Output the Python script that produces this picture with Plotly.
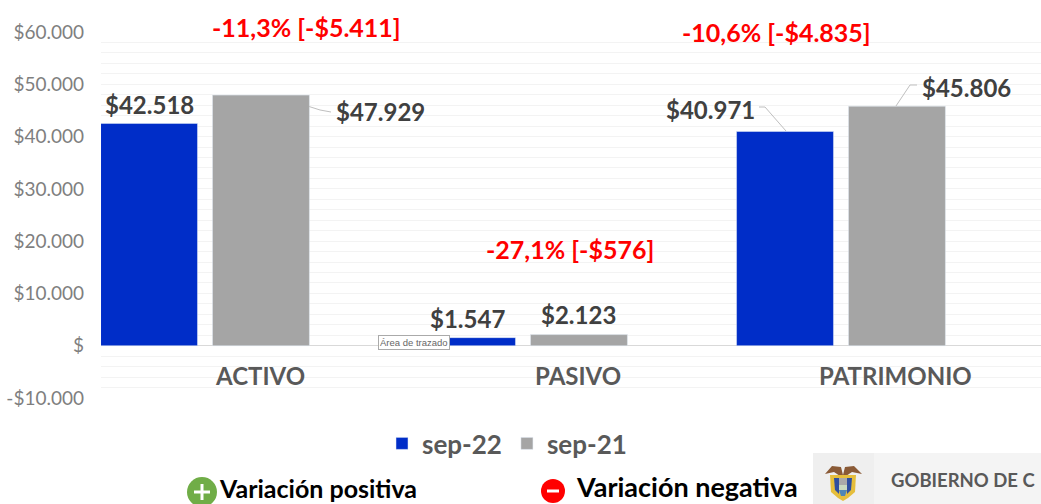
import plotly.graph_objects as go

categories = ["ACTIVO", "PASIVO", "PATRIMONIO"]
sep_22 = [42518, 1547, 40971]
sep_21 = [47929, 2123, 45806]
variation = ["-11,3% [-$5.411]", "-27,1% [-$576]", "-10,6% [-$4.835]"]
y_ticks = [60000, 50000, 40000, 30000, 20000, 10000, 0, -10000]
y_tick_labels = ["$60.000", "$50.000", "$40.000", "$30.000", "$20.000", "$10.000", "$", "-$10.000"]

W, H = 1041, 504
L, R, T, B = 101, 1041, 32, 398
FONT = "Lato"
BLUE, GRAY = "#002DC8", "#A5A5A5"

def px(x):
    return (x - L) / (R - L)

def py(y):
    return (B - y) / (B - T)

def money(v):
    return "$" + f"{v:,}".replace(",", ".")

def path(points, close=False):
    s = "M " + " L ".join(f"{px(a):.5f},{py(b):.5f}" for a, b in points)
    return s + (" Z" if close else "")

fig = go.Figure()
fig.add_bar(x=categories, y=sep_22, name="<b>sep-22</b>", marker_color=BLUE)
fig.add_bar(x=categories, y=sep_21, name="<b>sep-21</b>", marker_color=GRAY)

ann = []
off = 0.176
shift_22 = [(0, 19), (0, 19), (-75, 22)]
shift_21 = [(120, -16), (0, 20), (70, 19)]
for i in range(3):
    for vals, sgn, sh in ((sep_22, -1, shift_22[i]), (sep_21, 1, shift_21[i])):
        ann.append(dict(x=i + sgn * off, y=vals[i], xref="x", yref="y", text=money(vals[i]),
                        showarrow=False, xshift=sh[0], yshift=sh[1], xanchor="center", yanchor="middle",
                        font=dict(family=FONT, size=24, color="#404040", weight=700)))
for i, c in enumerate(categories):
    ann.append(dict(x=i + 0.173, y=0, xref="x", yref="y", yshift=-30, text=c, showarrow=False,
                    xanchor="center", yanchor="middle",
                    font=dict(family=FONT, size=24, color="#595959", weight=700)))
for t, (a, b) in zip(variation, [(306, 27), (570, 249), (776, 32)]):
    ann.append(dict(x=px(a), y=py(b), xref="paper", yref="paper", text=t, showarrow=False,
                    xanchor="center", yanchor="middle",
                    font=dict(family=FONT, size=25, color="#FF0000", weight=700)))

def free_text(a, b, t, size, color, weight=700):
    ann.append(dict(x=px(a), y=py(b), xref="paper", yref="paper", text=t, showarrow=False,
                    xanchor="left", yanchor="middle",
                    font=dict(family=FONT, size=size, color=color, weight=weight)))

free_text(217, 488, "Variación positiva", 25, "#000000")
free_text(574, 486.5, "Variación negativa", 27, "#000000")
free_text(889, 480, "GOBIERNO DE C", 18.5, "#595959")
ann.append(dict(x=px(414), y=py(342), xref="paper", yref="paper", text="Área de trazado", showarrow=False,
                xanchor="center", yanchor="middle",
                font=dict(family="Liberation Sans", size=9.5, color="#666666"), bgcolor="#FFFFFF",
                bordercolor="#AAAAAA", borderwidth=1, borderpad=1))

shapes = []
def rect(x0, y0, x1, y1, fill):
    shapes.append(dict(type="rect", xref="paper", yref="paper", x0=px(x0), x1=px(x1), y0=py(y0), y1=py(y1),
                       fillcolor=fill, line_width=0, layer="above"))
def circle(cx, cy, r, fill):
    shapes.append(dict(type="circle", xref="paper", yref="paper", x0=px(cx - r), x1=px(cx + r),
                       y0=py(cy - r), y1=py(cy + r), fillcolor=fill, line_width=0, layer="above"))
def poly(points, fill):
    shapes.append(dict(type="path", xref="paper", yref="paper", path=path(points, True),
                       fillcolor=fill, line_width=0, layer="above"))

for pts in ([(309, 106.5), (320, 110), (331, 112)],
            [(759, 107), (765, 107), (786, 131)],
            [(896, 106), (910, 85), (917, 85)]):
    shapes.append(dict(type="path", xref="paper", yref="paper", path=path(pts),
                       line=dict(color="#BFBFBF", width=1), layer="above"))

circle(202, 492, 15, "#70AD47")
rect(194, 490.5, 210, 493.5, "#FFFFFF")
rect(200.5, 484, 203.5, 500, "#FFFFFF")
circle(553, 491, 12, "#FF0000")
rect(547, 489.5, 559, 492.5, "#FFFFFF")

rect(874, 453, 1041, 504, "#F4F4F4")
rect(813, 453, 874, 504, "#EFEFEF")
poly([(825, 474), (832, 466), (841, 467), (843, 475), (845, 467), (854, 466), (862, 474), (852, 472), (843, 478), (834, 472)], "#8A5A36")
poly([(830, 475), (856, 475), (855, 492), (848, 498), (843, 501), (838, 498), (831, 492)], "#E5BE3C")
poly([(834, 478), (839, 478), (839, 494), (835, 490)], "#2E4FA0")
poly([(847, 478), (852, 478), (851, 490), (847, 494)], "#2E4FA0")
rect(839, 478, 847, 485, "#A9A9A9")
rect(839, 485, 847, 490, "#C8D9C0")
poly([(839, 490), (847, 490), (845, 496), (841, 496)], "#4E86B5")

fig.update_layout(
    width=W, height=H, autosize=False,
    margin=dict(l=L, r=W - R, t=T, b=H - B, pad=0),
    paper_bgcolor="#FFFFFF", plot_bgcolor="#FFFFFF",
    barmode="group", bargap=0.296, bargroupgap=0.134,
    font=dict(family=FONT),
    annotations=ann, shapes=shapes,
    legend=dict(orientation="h", x=px(382), y=py(420), xanchor="left", yanchor="top",
                font=dict(family=FONT, size=26, color="#595959"),
                itemwidth=30, tracegroupgap=0, bgcolor="rgba(0,0,0,0)"),
    xaxis=dict(range=[-0.327, 2.629], showticklabels=False, showgrid=False, zeroline=False, ticks=""),
    yaxis=dict(range=[-10000, 60000], tickvals=y_ticks, ticktext=y_tick_labels, ticks="",
               tickfont=dict(family=FONT, size=19, color="#7F7F7F"),
               showgrid=True, gridcolor="#F3F3F3", gridwidth=1,
               minor=dict(dtick=2000, showgrid=True, gridcolor="#F3F3F3", gridwidth=1, ticks=""),
               zeroline=True, zerolinecolor="#D9D9D9", zerolinewidth=1, ticklabelstandoff=16),
)
fig.write_html("out.html", config={"displayModeBar": False}, post_script="document.body.style.margin='0';")
